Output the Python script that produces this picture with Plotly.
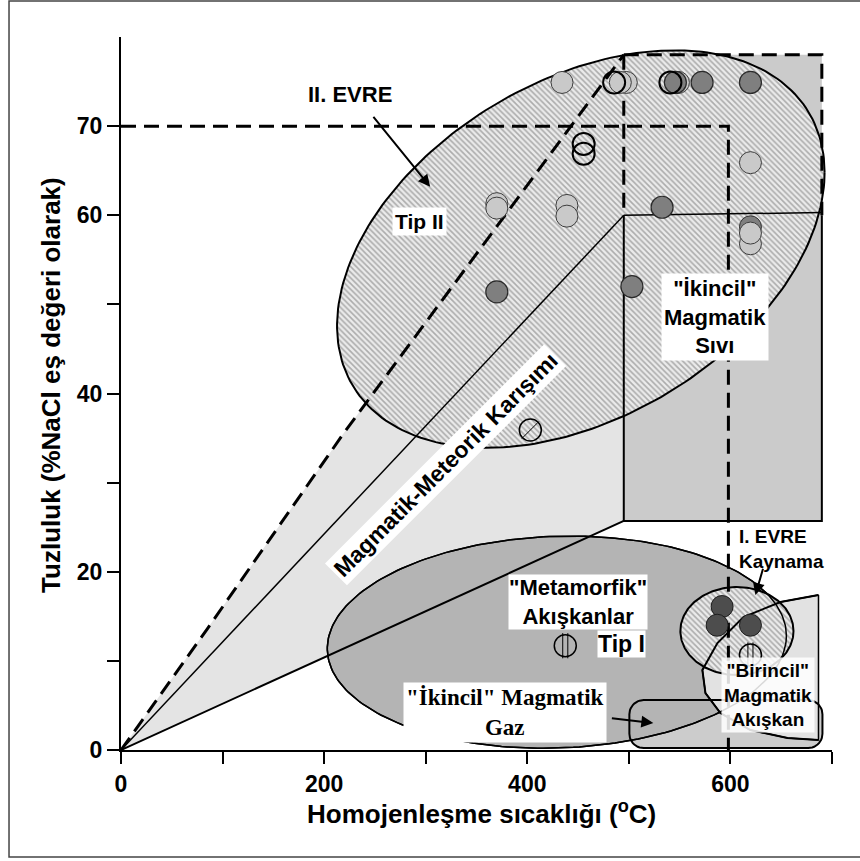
import numpy as np
import plotly.graph_objects as go

# ---------------- axes ----------------
x_ticks = [0, 100, 200, 300, 400, 500, 600, 700]
x_ticklabels = ["0", "", "200", "", "400", "", "600", ""]
y_ticks = [0, 10, 20, 30, 40, 50, 60, 70]
y_ticklabels = ["0", "", "20", "", "40", "", "60", "70"]

# ---------------- field boundaries (data units) ----------------
fan_upper_x = [0, 85, 219, 440, 495]          # dashed upper edge of mixing fan
fan_upper_y = [0, 13.6, 35.5, 69.5, 78.0]
fan_lower_x = [0, 495]                          # lower edge of mixing fan
fan_lower_y = [0, 25.7]
mix_line_x = [0, 495]                           # solid mixing line
mix_line_y = [0, 60.0]
liquid_x = [495, 690]                           # "İkincil" magmatic liquid box
liquid_y = [25.7, 60.0, 78.0]
stage2_x = [0, 598]                             # II. EVRE dashed limits
stage2_y = [0, 70]
lens_x = [686.7, 649.3, 612.8, 587.2, 572.4, 575.4, 590.1, 619.7, 656.2, 686.7]
lens_y = [17.39, 16.60, 14.92, 12.00, 8.97, 6.39, 4.15, 2.24, 1.35, 1.12]
gas_x = [500.5, 690.6]
gas_y = [0.22, 5.6]
# ellipses: centre x, centre y, half width, half height, tilt
tip2_ell = [452.7, 56.2, 240.0, 22.3, 0.386]
meta_ell = [429.1, 12.1, 226.0, 11.9, 0.06]
boil_ell = [606.4, 13.35, 55.7, 4.94, 0.0]

# ---------------- inclusion data ----------------
light_x = [434.2, 497.5, 491.6, 548.8, 619.7, 370.0, 370.0, 439.0, 439.0, 619.7, 619.7]
light_y = [74.9, 74.9, 74.9, 74.9, 65.9, 61.3, 60.8, 61.1, 59.9, 56.8, 58.0]
darkback_x = [619.7]
darkback_y = [58.7]
dark_x = [545.8, 572.1, 619.7, 532.7, 370.0, 503.0]
dark_y = [74.9, 74.9, 74.9, 60.9, 51.4, 52.0]
hollow_x = [485.5, 540.9, 455.5, 455.5]
hollow_y = [74.9, 74.9, 68.0, 66.9]
boil_x = [591.8, 586.9, 619.7]
boil_y = [16.1, 14.0, 14.0]
slash_x = [403.0]
slash_y = [35.9]
stripe_x = [437.4, 619.7]
stripe_y = [11.7, 10.66]

FONT = "Liberation Sans, Arial, sans-serif"


def ellipse(p, n=240):
    cx, cy, hw, hh, r = p
    t = np.linspace(0, 2 * np.pi, n)
    return cx + hw * np.cos(t), cy + hh * (r * np.cos(t) + np.sqrt(1 - r * r) * np.sin(t))


def rounded_rect(xs, ys, rx=14.0, ry=1.6, n=12):
    x0, x1 = xs
    y0, y1 = ys
    px, py = [], []
    corners = [(x1 - rx, y1 - ry, 0), (x0 + rx, y1 - ry, 90), (x0 + rx, y0 + ry, 180), (x1 - rx, y0 + ry, 270)]
    for cx, cy, a0 in corners:
        a = np.radians(np.linspace(a0, a0 + 90, n))
        px += list(cx + rx * np.cos(a))
        py += list(cy + ry * np.sin(a))
    px.append(px[0]); py.append(py[0])
    return px, py


fig = go.Figure()


def add(x, y, **kw):
    kw.setdefault("mode", "lines")
    kw.setdefault("hoverinfo", "skip")
    fig.add_trace(go.Scatter(x=list(x), y=list(y), showlegend=False, **kw))


hatch = dict(shape="\\", size=4, solidity=0.4, fgcolor="#6e6e6e", bgcolor="#ebebeb")

# mixing fan
add(fan_upper_x + [fan_lower_x[1], 0], fan_upper_y + [fan_lower_y[1], 0],
    fill="toself", fillcolor="#e4e4e4", line=dict(width=0))
# magmatic liquid box
add([liquid_x[0], liquid_x[1], liquid_x[1], liquid_x[0], liquid_x[0]],
    [liquid_y[0], liquid_y[0], liquid_y[2], liquid_y[2], liquid_y[0]],
    fill="toself", fillcolor="#cbcbcb", line=dict(width=0))
# Tip II ellipse
ex, ey = ellipse(tip2_ell)
add(ex, ey, fill="toself", fillcolor="#ebebeb", fillpattern=hatch, line=dict(color="black", width=2))
# gas box fill
gx, gy = rounded_rect(gas_x, gas_y)
add(gx, gy, fill="toself", fillcolor="#cccccc", line=dict(width=0))
# metamorphic ellipse
mx, my = ellipse(meta_ell)
add(mx, my, fill="toself", fillcolor="#b4b4b4", line=dict(color="black", width=1.5))
# primary magmatic lens
lx = lens_x + [lens_x[0]]
ly = lens_y + [lens_y[0]]
add(lx, ly, fill="toself", fillcolor="#e2e2e2", line=dict(color="black", width=1.5))
# boiling ellipse
bx, by = ellipse(boil_ell)
add(bx, by, fill="toself", fillcolor="#ebebeb", fillpattern=hatch, line=dict(color="black", width=2))
# outlines drawn over
add(mx, my, line=dict(color="black", width=1.5))
add(lens_x, lens_y, line=dict(color="black", width=2))
add(gx, gy, line=dict(color="black", width=2))

# solid lines
add(fan_lower_x, fan_lower_y, line=dict(color="black", width=2))
add(mix_line_x, mix_line_y, line=dict(color="black", width=1.5))
add([liquid_x[0], liquid_x[0], liquid_x[1], liquid_x[1]],
    [liquid_y[1], liquid_y[0], liquid_y[0], liquid_y[1]], line=dict(color="black", width=2))
add([liquid_x[0], liquid_x[1]], [liquid_y[1], liquid_y[1] + 0.3], line=dict(color="black", width=1.5))

# dashed lines
dash = dict(color="black", width=3, dash="15px,8px")
add(fan_upper_x, fan_upper_y, line=dash)
add([liquid_x[0], liquid_x[1], liquid_x[1]], [liquid_y[2], liquid_y[2], liquid_y[1]], line=dash)
add([liquid_x[0], liquid_x[0]], [liquid_y[2], liquid_y[1]], line=dash)
add([stage2_x[0], stage2_x[1], stage2_x[1]], [stage2_y[1], stage2_y[1], stage2_y[0]], line=dash)

# inclusion markers
MS = 22
add(darkback_x, darkback_y, mode="markers",
    marker=dict(size=MS, color="#7f7f7f", line=dict(color="#333333", width=1)))
add(light_x, light_y, mode="markers",
    marker=dict(size=MS, color="#c9c9c9", line=dict(color="#3c3c3c", width=1)))
add(dark_x, dark_y, mode="markers",
    marker=dict(size=MS, color="#7f7f7f", line=dict(color="#2a2a2a", width=1.2)))
add(hollow_x, hollow_y, mode="markers",
    marker=dict(size=MS, symbol="circle-open", color="black", line=dict(color="black", width=2)))
add(boil_x, boil_y, mode="markers",
    marker=dict(size=MS, color="#4d4d4d", line=dict(color="#1e1e1e", width=1)))
add(slash_x, slash_y, mode="markers",
    marker=dict(size=MS, color="rgba(0,0,0,0)", line=dict(color="black", width=1.5)))
add(slash_x, slash_y, mode="markers",
    marker=dict(size=17, symbol="line-ne", line=dict(color="black", width=1)))
add(stripe_x, stripe_y, mode="markers",
    marker=dict(size=MS, color="rgba(0,0,0,0)", line=dict(color="black", width=1.5)))
for off in (-2.5, 2.5):
    add([v + off for v in stripe_x], stripe_y, mode="markers",
        marker=dict(size=18, symbol="line-ns", line=dict(color="black", width=1)))

# ---------------- annotations ----------------
ann = []


def label(x, y, text, size=21, bg="white", bold=True, family=FONT, pad=2, **kw):
    t = "<b>" + text + "</b>" if bold else text
    ann.append(dict(x=x, y=y, xref="x", yref="y", text=t, showarrow=False,
                    font=dict(family=family, size=size, color="black"),
                    bgcolor=bg, borderpad=pad, **kw))


label(225.6, 73.5, "II. EVRE", size=22, bg="rgba(0,0,0,0)")
label(293.6, 59.3, "Tip II", size=21)
label(585.2, 48.6, "\"İkincil\"<br>Magmatik<br>Sıvı", size=22)
label(319.2, 32.0, "Magmatik-Meteorik Karışımı", size=23, textangle=-45)
label(450.2, 16.6, "\"Metamorfik\"<br>Akışkanlar", size=22, pad=0)
label(492.6, 11.9, "Tip I", size=23, pad=0)
label(378.3, 4.26, "\"İkincil\" Magmatik<br>Gaz", size=23,
      family="Liberation Serif, Times New Roman, serif")
label(605.5, 22.5, "I. EVRE<br>Kaynama", size=19, bg="rgba(0,0,0,0)",
      xanchor="left", align="left")
label(637.4, 6.2, "\"Birincil\"<br>Magmatik<br>Akışkan", size=19, bg="rgba(255,255,255,0.85)")

# arrows
for hx, hy, tx, ty in [(304.4, 63.2, 247.3, 71.2), (624.6, 17.4, 632.5, 20.5), (524.1, 3.03, 481.8, 3.59)]:
    ann.append(dict(x=hx, y=hy, ax=tx, ay=ty, xref="x", yref="y", axref="x", ayref="y",
                    text="", showarrow=True, arrowhead=2, arrowsize=1.2, arrowwidth=2,
                    arrowcolor="black"))

# axis titles
ann.append(dict(x=0.507, y=-0.087, xref="paper", yref="paper", showarrow=False,
                text="<b>Homojenleşme sıcaklığı (<sup>o</sup>C)</b>",
                font=dict(family=FONT, size=26, color="black"), yanchor="middle"))
ann.append(dict(x=-0.0985, y=0.512, xref="paper", yref="paper", showarrow=False,
                text="<b>Tuzluluk (%NaCl eş değeri olarak)</b>", textangle=-90,
                font=dict(family=FONT, size=26, color="black"), xanchor="center", yanchor="middle"))

fig.update_layout(
    width=860, height=861,
    margin=dict(l=121, r=28, t=37, b=111, autoexpand=False),
    paper_bgcolor="white", plot_bgcolor="white",
    annotations=ann,
    shapes=[dict(type="rect", xref="paper", yref="paper", x0=-0.1575, x1=1.06, y0=-0.150, y1=1.0505,
                 line=dict(color="#444444", width=1.5), layer="below")],
    xaxis=dict(range=[0, 700], showgrid=False, zeroline=False, showline=True, linecolor="black",
               linewidth=2, ticks="outside", ticklen=12, tickwidth=2, tickcolor="black",
               tickvals=x_ticks, ticktext=["<b>%s</b>" % t for t in x_ticklabels], automargin=False,
               tickfont=dict(family=FONT, size=23, color="black")),
    yaxis=dict(range=[0, 80], showgrid=False, zeroline=False, showline=True, linecolor="black",
               linewidth=2, ticks="outside", ticklen=12, tickwidth=2, tickcolor="black",
               tickvals=y_ticks, ticktext=["<b>%s</b>" % t for t in y_ticklabels], automargin=False,
               tickfont=dict(family=FONT, size=23, color="black")),
)

fig.write_html("out.html", config={"displayModeBar": False},
               post_script="document.body.style.margin='0';document.body.style.overflow='hidden';")
